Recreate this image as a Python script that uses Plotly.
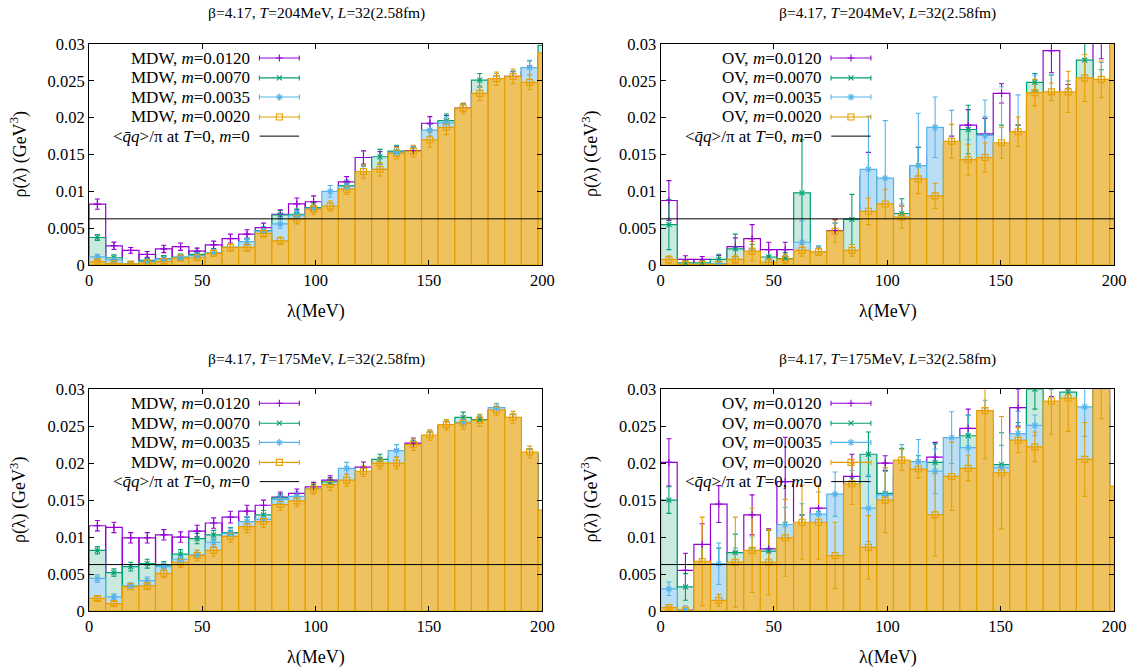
import plotly.graph_objects as go

# bin centres in MeV, same binning in all four panels
binCenters = [3.7, 11.0, 18.4, 25.7, 33.0, 40.4, 47.7, 55.0, 62.4, 69.7, 77.0, 84.4, 91.7, 99.1,
              106.4, 113.7, 121.1, 128.4, 135.7, 143.1, 150.4, 157.7, 165.1, 172.4, 179.8, 187.1, 194.4, 201.8]

# MDW, T=204MeV
mdw204m0120 = [.00827, .00262, .0020, .00145, .0022, .0025, .0019, .00275, .0036, .0042, .0051, .0069, .0083, .0086,
               .0079, .0113, .0146, .0146, .0154, .01555, .01925, .0195, .0213, .0235, .0250, .0256, .0262, .0280]
mdw204m0070 = [.00375, .0010, .00014, .00063, .0009, .0011, .00145, .0017, .0024, .0031, .0047, .0068, .0069, .0078,
               .0078, .0108, .0127, .0147, .01546, .0153, .0183, .0196, .0212, .0251, .0252, .0255, .0268, .0298]
mdw204m0035 = [.00113, .0007, .0001, .0005, .0008, .0010, .0013, .0017, .0024, .0032, .0046, .0056, .0067, .0077,
               .0100, .0107, .0126, .0130, .0153, .0154, .0183, .0193, .0211, .0232, .0252, .0254, .0268, .0285]
mdw204m0020 = [.00045, .0002, .00015, .0003, .0005, .00095, .0010, .0016, .0024, .0024, .0043, .0033, .0063, .0076,
               .0080, .0103, .0127, .0130, .0152, .01546, .0170, .0187, .0213, .0233, .0253, .0256, .0248, .0288]
mdw204e0120 = [.0007, .0005, .0004, .0004, .0005, .0005, .0004, .0005, .0006, .0006, .0006, .0006, .0008, .0008,
               .0006, .0007, .0009, .0008, .0007, .0006, .0009, .0008, .0006, .0009, .0007, .0007, .0008, .0008]
mdw204e0070 = [.0004, .0004, .0003, .0003, .0004, .0004, .0004, .0005, .0005, .0005, .0005, .0006, .0007, .0007,
               .0006, .0007, .0008, .0010, .0008, .0007, .0008, .0009, .0007, .0009, .0008, .0008, .0009, .0008]
mdw204e0035 = [.0003, .0003, .0003, .0003, .0003, .0003, .0003, .0004, .0005, .0005, .0006, .0006, .0006, .0006,
               .0008, .0008, .0008, .0007, .0007, .0007, .0008, .0008, .0007, .0009, .0008, .0008, .0010, .0010]
mdw204e0020 = [.0002, .0002, .0002, .0002, .0003, .0003, .0003, .0004, .0005, .0005, .0005, .0005, .0007, .0007,
               .0007, .0007, .0009, .0009, .0008, .0008, .0010, .0010, .0007, .0010, .0009, .0010, .0010, .0010]

# OV, T=204MeV
ov204m0120 = [.00877, .00077, .00077, .0007, .0025, .0036, .0021, .0021, .0021, .0018, .0047, .0019, .0120, .0075,
              .0068, .0132, .0150, .0155, .0190, .0178, .0233, .0170, .0215, .0291, .0225, .0240, .0310, .0320]
ov204m0070 = [.0055, .0003, .0003, .00077, .0022, .0016, .0011, .0009, .0098, .0018, .0045, .0062, .0082, .0080,
              .0070, .0135, .0110, .0140, .0184, .0176, .0160, .0165, .0248, .0230, .0215, .0278, .0240, .0300]
ov204m0035 = [.0006, .0001, .0001, .0002, .0005, .0012, .0002, .0007, .0031, .0018, .0045, .0019, .0130, .0118,
              .0063, .0135, .0187, .0160, .0140, .0176, .0165, .0175, .0234, .0230, .0225, .0250, .0245, .0300]
ov204m0020 = [.00077, .0001, .0001, .0001, .00077, .0019, .0004, .0008, .0020, .0018, .0046, .0020, .0073, .0083,
              .0065, .0117, .0094, .0168, .0143, .0146, .0166, .0181, .0234, .0235, .0235, .0254, .0252, .0320]
ov204e0120 = [.0027, .0005, .0004, .0006, .0012, .0019, .0010, .0010, .0015, .0005, .0015, .0015, .0033, .0020,
              .0012, .0028, .0025, .0020, .0021, .0021, .0013, .0020, .0026, .0030, .0020, .0030, .0030, .0030]
ov204e0070 = [.0034, .0004, .0004, .0007, .0020, .0012, .0010, .0008, .0072, .0008, .0012, .0034, .0030, .0030,
              .0020, .0025, .0025, .0020, .0033, .0025, .0030, .0025, .0012, .0028, .0025, .0028, .0025, .0025]
ov204e0035 = [.0005, .0002, .0002, .0003, .0006, .0009, .0005, .0006, .0029, .0008, .0012, .0009, .0072, .0078,
              .0020, .0071, .0041, .0050, .0030, .0048, .0077, .0056, .0024, .0028, .0025, .0030, .0030, .0030]
ov204e0020 = [.0005, .0002, .0002, .0003, .0006, .0013, .0005, .0006, .0008, .0005, .0015, .0008, .0018, .0020,
              .0015, .0020, .0017, .0023, .0021, .0020, .0021, .0020, .0018, .0012, .0028, .0032, .0025, .0030]

# MDW, T=175MeV
mdw175m0120 = [.01153, .0113, .0099, .0099, .0103, .0100, .0108, .0119, .0127, .0135, .0143, .0154, .0159, .0168,
               .0177, .0175, .01945, .0198, .0210, .0227, .0237, .0250, .0253, .0256, .0270, .0260, .0213, .0135]
mdw175m0070 = [.0082, .0052, .0060, .0064, .0061, .0077, .0098, .0103, .0106, .0120, .0130, .0153, .0152, .0165,
               .01745, .0176, .0188, .0205, .0200, .0224, .0236, .0251, .0262, .0259, .0271, .0260, .0213, .0135]
mdw175m0035 = [.0044, .0019, .0034, .0041, .0060, .0070, .0076, .0093, .0105, .0121, .0124, .0151, .0155, .0164,
               .0170, .0193, .0187, .0198, .0217, .0224, .0237, .0251, .0255, .0257, .0275, .0260, .0213, .0135]
mdw175m0020 = [.0017, .0010, .0033, .0034, .0051, .0066, .0075, .0082, .0101, .0114, .0121, .0144, .0149, .0165,
               .0171, .0177, .0189, .0200, .0200, .0225, .0238, .0252, .0254, .0258, .0272, .0262, .0215, .01365]
mdw175e0120 = [.0007, .0007, .0007, .0007, .0007, .0007, .0008, .0007, .0008, .0008, .0007, .0007, .0006, .0006,
               .0006, .0008, .0007, .0007, .0008, .0007, .0006, .0006, .0006, .0006, .0005, .0006, .0006, .0006]
mdw175e0070 = [.0005, .0005, .0006, .0006, .0006, .0006, .0007, .0006, .0007, .0007, .0006, .0006, .0006, .0006,
               .0006, .0007, .0006, .0007, .0007, .0007, .0006, .0006, .0007, .0006, .0005, .0006, .0006, .0006]
mdw175e0035 = [.0005, .0004, .0004, .0005, .0005, .0005, .0006, .0006, .0007, .0007, .0006, .0006, .0006, .0006,
               .0006, .0008, .0006, .0007, .0008, .0007, .0006, .0006, .0006, .0006, .0006, .0006, .0006, .0006]
mdw175e0020 = [.0003, .0003, .0004, .0005, .0006, .0007, .0007, .0008, .0008, .0008, .0008, .0008, .0008, .0007,
               .0008, .0008, .0007, .0008, .0008, .0008, .0007, .0007, .0008, .0008, .0008, .0008, .0008, .0008]

# OV, T=175MeV
ov175m0120 = [.0201, .0055, .0090, .01446, .0060, .0130, .0084, .0175, .0100, .0139, .0070, .0182, .0145, .0200,
              .0180, .0165, .0208, .0170, .0247, .0230, .0160, .0275, .0200, .0260, .0270, .0190, .0300, .0150]
ov175m0070 = [.0150, .00325, .0065, .0060, .0079, .0060, .0081, .0090, .0100, .0105, .0060, .0150, .0212, .0159,
              .0190, .0180, .0201, .0175, .0237, .0240, .0198, .0220, .0300, .0270, .0296, .0195, .0280, .0160]
ov175m0035 = [.0030, .0002, .0060, .0064, .0060, .0070, .0060, .0117, .0110, .0131, .0158, .0160, .0139, .0157,
              .0195, .0202, .0189, .02345, .0221, .0250, .0194, .0240, .0251, .0275, .0280, .0276, .0300, .0165]
ov175m0020 = [.00045, .0001, .0067, .00145, .0066, .0082, .0066, .0099, .0120, .0120, .0075, .0172, .0086, .0150,
              .0204, .0192, .0130, .0182, .0193, .0271, .0187, .0231, .0222, .0284, .0288, .0205, .0320, .0169]
ov175e0120 = [.0032, .0023, .0028, .0025, .0020, .0027, .0027, .0060, .0030, .0030, .0030, .0030, .0035, .0010,
              .0020, .0029, .0020, .0025, .0026, .0030, .0030, .0025, .0030, .0030, .0030, .0030, .0030, .0030]
ov175e0070 = [.0018, .0018, .0025, .0025, .0025, .0025, .0028, .0030, .0030, .0030, .0025, .0030, .0030, .0030,
              .0030, .0030, .0025, .0030, .0028, .0035, .0043, .0035, .0027, .0030, .0030, .0030, .0030, .0030]
ov175e0035 = [.0009, .0005, .0030, .0028, .0025, .0030, .0025, .0023, .0035, .0030, .0030, .0030, .0045, .0035,
              .0030, .0030, .0030, .0035, .0043, .0035, .0030, .0030, .0014, .0030, .0030, .0040, .0030, .0030]
ov175e0020 = [.0002, .0002, .0060, .0008, .0061, .0057, .0044, .0052, .0050, .0050, .0045, .0028, .0043, .0044,
              .0014, .0012, .0056, .0046, .0017, .0065, .0076, .0017, .0020, .0045, .0045, .0050, .0060, .0030]

xTicks = [0, 50, 100, 150, 200]
yTicks = [0, 0.005, 0.01, 0.015, 0.02, 0.025, 0.03]
yTickLabels = ["0", "0.005", "0.01", "0.015", "0.02", "0.025", "0.03"]
massLabels = ["0.0120", "0.0070", "0.0035", "0.0020"]
condensate = 0.00628

# legend rows in data units, gnuplot style key inside the frame
keyRows = [0.0281, 0.0254, 0.0228, 0.0201, 0.0175]

lineColors = ["#9400D3", "#009E73", "#56B4E9", "#E69F00"]
fillColors = ["rgba(255,255,255,0)", "#CAEADF", "#BADEF5", "#EFC260"]
symbols = ["cross-thin", "x-thin", "asterisk", "square-open"]
markerSizes = [5, 5, 6, 6]
fontName = "Liberation Serif"
wide = 1138
tall = 670

# plot area edges in page pixels, margins sit just outside them so nothing gets pushed
marginL = 89
marginR = 24
marginT = 44
marginB = 59.3
areaW = wide - marginL - marginR
areaH = tall - marginT - marginB

panels = [
    {"name": "MDW", "temp": 204, "box": [89, 542.3, 44, 265],
     "vals": [mdw204m0120, mdw204m0070, mdw204m0035, mdw204m0020],
     "errs": [mdw204e0120, mdw204e0070, mdw204e0035, mdw204e0020]},
    {"name": "OV", "temp": 204, "box": [660.5, 1114, 44, 265],
     "vals": [ov204m0120, ov204m0070, ov204m0035, ov204m0020],
     "errs": [ov204e0120, ov204e0070, ov204e0035, ov204e0020]},
    {"name": "MDW", "temp": 175, "box": [89, 542.3, 389, 610.7],
     "vals": [mdw175m0120, mdw175m0070, mdw175m0035, mdw175m0020],
     "errs": [mdw175e0120, mdw175e0070, mdw175e0035, mdw175e0020]},
    {"name": "OV", "temp": 175, "box": [660.5, 1114, 389, 610.7],
     "vals": [ov175m0120, ov175m0070, ov175m0035, ov175m0020],
     "errs": [ov175e0120, ov175e0070, ov175e0035, ov175e0020]},
]


def paperX(px):
    return (px - marginL) / areaW


def paperY(py):
    return 1 - (py - marginT) / areaH


def paperText(px, py, text, size, angle=0):
    # text placed in page pixels
    return dict(x=paperX(px), y=paperY(py), xref="paper", yref="paper", xanchor="center", yanchor="middle",
                showarrow=False, text=text, textangle=angle, font=dict(family=fontName, size=size, color="black"))


fig = go.Figure()
annotations = []

for p, panel in enumerate(panels):
    suffix = "" if p == 0 else str(p + 1)
    xName = "x" + suffix
    yName = "y" + suffix
    left, right, top, bottom = panel["box"]

    # bars and their error bars share a layer, so later series cover earlier ones
    for s in range(4):
        fig.add_trace(go.Bar(
            x=binCenters, y=panel["vals"][s], width=7.34, xaxis=xName, yaxis=yName,
            marker=dict(color=fillColors[s], line=dict(color=lineColors[s], width=1.2)),
            error_y=dict(type="data", array=panel["errs"][s], color=lineColors[s], thickness=1.1, width=2.5),
            showlegend=False, hoverinfo="skip"))

    # point symbols, dropped where a later opaque box would cover them
    for s in range(4):
        shown = []
        for i, v in enumerate(panel["vals"][s]):
            later = [panel["vals"][t][i] for t in range(s + 1, 4)]
            shown.append(v if not later or v > max(later) else None)
        fig.add_trace(go.Scatter(
            x=binCenters, y=shown, mode="markers", xaxis=xName, yaxis=yName,
            marker=dict(symbol=symbols[s], size=markerSizes[s], color=lineColors[s],
                        line=dict(color=lineColors[s], width=1.1)),
            showlegend=False, hoverinfo="skip"))

    fig.add_trace(go.Scatter(
        x=[0, 200], y=[condensate, condensate], mode="lines", xaxis=xName, yaxis=yName,
        line=dict(color="black", width=1), showlegend=False, hoverinfo="skip"))

    # key samples
    for s in range(4):
        fig.add_trace(go.Scatter(
            x=[84], y=[keyRows[s]], mode="markers", xaxis=xName, yaxis=yName,
            marker=dict(symbol=symbols[s], size=markerSizes[s], color=lineColors[s],
                        line=dict(color=lineColors[s], width=1.1)),
            error_x=dict(type="constant", value=8.8, color=lineColors[s], thickness=1.1, width=2.5),
            showlegend=False, hoverinfo="skip"))
        annotations.append(dict(
            x=72, y=keyRows[s], xref=xName, yref=yName, xanchor="right", yanchor="middle", showarrow=False,
            text=panel["name"] + ", <i>m</i>=" + massLabels[s], font=dict(family=fontName, size=17, color="black")))
    fig.add_trace(go.Scatter(
        x=[75.3, 92.7], y=[keyRows[4], keyRows[4]], mode="lines", xaxis=xName, yaxis=yName,
        line=dict(color="black", width=1), showlegend=False, hoverinfo="skip"))
    annotations.append(dict(
        x=72, y=keyRows[4], xref=xName, yref=yName, xanchor="right", yanchor="middle", showarrow=False,
        text="&lt;<i>q\u0304q</i>&gt;/π at <i>T</i>=0, <i>m</i>=0", font=dict(family=fontName, size=17, color="black")))

    # panel title and axis titles
    annotations.append(paperText((left + right) / 2 + 0.5, top - 30.5,
                                 "β=4.17, <i>T</i>=" + str(panel["temp"]) + "MeV, <i>L</i>=32(2.58fm)", 15.5))
    annotations.append(paperText((left + right) / 2 + 0.5, bottom + 46, "λ(MeV)", 18))
    annotations.append(paperText(left - 70, (top + bottom) / 2, "ρ(λ) (GeV<sup>3</sup>)", 18, -90))

    fig.update_layout({
        "xaxis" + suffix: dict(
            domain=[paperX(left), paperX(right)], range=[0, 200], anchor=yName,
            tickvals=xTicks, ticks="inside", ticklen=5, tickcolor="black", mirror="ticks",
            showline=True, linecolor="black", linewidth=1, showgrid=False, zeroline=False,
            tickfont=dict(family=fontName, size=16.5, color="black")),
        "yaxis" + suffix: dict(
            domain=[paperY(bottom), paperY(top)], range=[0, 0.03], anchor=xName,
            tickvals=yTicks, ticktext=yTickLabels, ticks="inside", ticklen=5, tickcolor="black", mirror="ticks",
            showline=True, linecolor="black", linewidth=1, showgrid=False, zeroline=False,
            tickfont=dict(family=fontName, size=16.5, color="black")),
    })

fig.update_layout(
    barmode="overlay", width=wide, height=tall, autosize=False,
    margin=dict(l=marginL, r=marginR, t=marginT, b=marginB), plot_bgcolor="white", paper_bgcolor="white",
    showlegend=False, annotations=annotations)

fig.write_html("out.html", config={"displayModeBar": False}, post_script="document.body.style.margin='0';")
